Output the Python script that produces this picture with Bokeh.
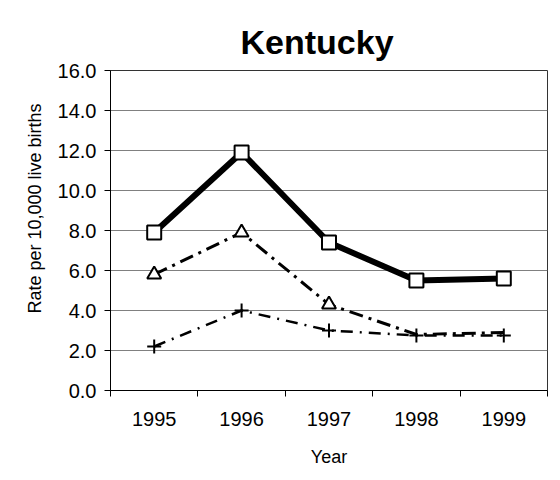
from bokeh.plotting import figure
from bokeh.models import Range1d, FixedTicker, NumeralTickFormatter, Title
from bokeh.embed import file_html
from bokeh.resources import INLINE

years = ["1995", "1996", "1997", "1998", "1999"]
square_vals = [7.9, 11.9, 7.4, 5.5, 5.6]
triangle_vals = [5.8, 7.9, 4.3, 2.8, 2.9]
plus_vals = [2.2, 4.0, 3.0, 2.75, 2.75]
y_ticks = [0, 2, 4, 6, 8, 10, 12, 14, 16]

xs = list(range(len(years)))
FONT = "Liberation Sans"

p = figure(width=552, height=472, output_backend="svg", toolbar_location=None,
           x_range=Range1d(-0.5, len(years) - 0.5), y_range=Range1d(0, 16),
           min_border_left=110, min_border_right=5, min_border_top=70, min_border_bottom=82)
p.title = Title(text="Kentucky", align="left", offset=130, text_font=FONT,
                text_font_size="34px", text_font_style="bold", text_color="black", standoff=19)

# axes
p.xaxis.ticker = FixedTicker(ticks=xs, minor_ticks=[i - 0.5 for i in range(len(years) + 1)])
p.xaxis.major_label_overrides = {i: y for i, y in enumerate(years)}
p.xaxis.major_tick_line_color = None
p.xaxis.minor_tick_line_color = "black"
p.xaxis.minor_tick_in = 0
p.xaxis.minor_tick_out = 6
p.xaxis.major_tick_out = 6
p.xaxis.major_label_standoff = 15
p.xaxis.axis_label = "Year"
p.xaxis.axis_label_standoff = 18

p.yaxis.ticker = FixedTicker(ticks=y_ticks)
p.yaxis.formatter = NumeralTickFormatter(format="0.0")
p.yaxis.minor_tick_line_color = None
p.yaxis.major_tick_in = 0
p.yaxis.major_tick_out = 6
p.yaxis.major_label_standoff = 8

for ax in (p.xaxis[0], p.yaxis[0]):
    ax.axis_line_color = "black"
    ax.major_label_text_font = FONT
    ax.major_label_text_font_size = "20px"
    ax.major_label_text_color = "black"
    ax.axis_label_text_font = FONT
    ax.axis_label_text_font_size = "18px"
    ax.axis_label_text_font_style = "normal"
    ax.axis_label_text_color = "black"

# y-axis title, placed toward the top like the original
p.add_layout(Title(text="Rate per 10,000 live births", align="right", offset=33,
                   text_font=FONT, text_font_size="18px", text_font_style="normal",
                   text_color="black", standoff=19), "left")

p.xgrid.grid_line_color = None
p.ygrid.grid_line_color = "#808080"
p.ygrid.grid_line_width = 1
p.outline_line_color = "#333333"
p.outline_line_width = 1

# series
p.line(xs, plus_vals, line_color="black", line_width=2.5, line_dash="12 7 2 7")
p.scatter(xs, plus_vals, marker="cross", size=14, line_color="black", line_width=2)

p.line(xs, triangle_vals, line_color="black", line_width=3, line_dash="14 6 3 6")
p.scatter(xs[:3], triangle_vals[:3], marker="triangle", size=14, fill_color="white",
          line_color="black", line_width=2)

p.line(xs, square_vals, line_color="black", line_width=6)
p.scatter(xs, square_vals, marker="square", size=14, fill_color="white",
          line_color="black", line_width=2)

open("out.html", "w").write(file_html(p, INLINE))
